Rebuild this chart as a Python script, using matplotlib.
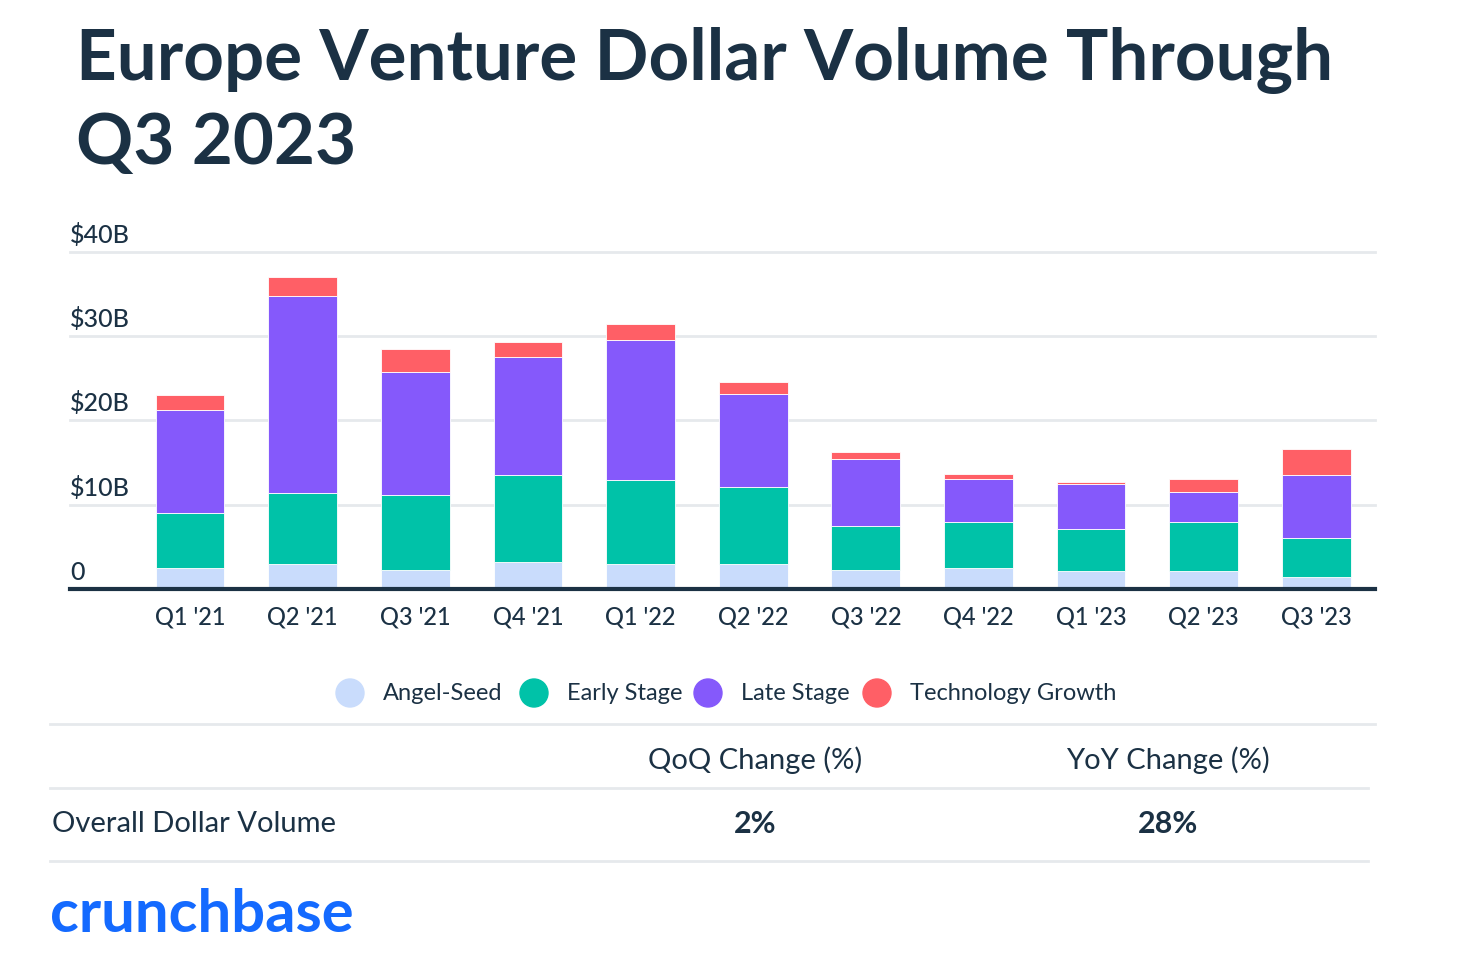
import matplotlib.pyplot as plt
import numpy as np

# 분기별 데이터 ($B)
quarters = ["Q1 '21", "Q2 '21", "Q3 '21", "Q4 '21", "Q1 '22", "Q2 '22",
            "Q3 '22", "Q4 '22", "Q1 '23", "Q2 '23", "Q3 '23"]
angel_seed = [2.5, 3.0, 2.3, 3.2, 3.0, 3.0, 2.3, 2.5, 2.1, 2.1, 1.45]
early_stage = [6.5, 8.4, 8.8, 10.3, 9.9, 9.1, 5.2, 5.4, 5.0, 5.8, 4.55]
late_stage = [12.3, 23.4, 14.7, 14.0, 16.6, 11.1, 7.9, 5.1, 5.4, 3.65, 7.5]
tech_growth = [1.7, 2.2, 2.65, 1.8, 1.95, 1.4, 0.9, 0.7, 0.2, 1.55, 3.1]

series_names = ["Angel-Seed", "Early Stage", "Late Stage", "Technology Growth"]
series_colors = ["#c9dcfc", "#00c2a8", "#8559fb", "#ff5f66"]

y_ticks = [0, 10, 20, 30, 40]
y_labels = ["0", "$10B", "$20B", "$30B", "$40B"]

table_header = ["QoQ Change (%)", "YoY Change (%)"]
table_row = "Overall Dollar Volume"
table_values = ["2%", "28%"]

NAVY = "#1b3144"
W, H = 1461, 967
FONT = "Lato"

def fx(px):
    return px / W

def fy(py):
    return 1 - py / H

fig = plt.figure(figsize=(W / 100, H / 100), dpi=100)
fig.patch.set_facecolor("white")

# 제목
fig.text(fx(76), fy(60), "Europe Venture Dollar Volume Through", fontsize=51,
         fontweight="bold", color=NAVY, family=FONT, va="center", ha="left")
fig.text(fx(76), fy(144), "Q3 2023", fontsize=51,
         fontweight="bold", color=NAVY, family=FONT, va="center", ha="left")

# 막대 차트
ax = fig.add_axes([fx(70), fy(589), fx(1375) - fx(70), fy(252) - fy(589)])
x = np.arange(len(quarters))
bottom = np.zeros(len(quarters))
for vals, name, color in zip([angel_seed, early_stage, late_stage, tech_growth],
                             series_names, series_colors):
    ax.bar(x, vals, width=0.61, bottom=bottom, color=color, label=name,
           edgecolor="white", linewidth=0.6, zorder=3)
    bottom += np.array(vals)

ax.set_xlim(-1.065, 10.52)
ax.set_ylim(0, 40)
for t in y_ticks[1:]:
    ax.axhline(t, color="#e6e9ec", linewidth=2, zorder=1, clip_on=False)
for t, lab in zip(y_ticks, y_labels):
    ax.annotate(lab, xy=(0, t), xycoords=ax.get_yaxis_transform(),
                xytext=(0, 5), textcoords="offset pixels", ha="left", va="bottom",
                fontsize=18, color=NAVY, family=FONT, fontweight="medium")

for s in ["top", "right", "left"]:
    ax.spines[s].set_visible(False)
ax.spines["bottom"].set_color(NAVY)
ax.spines["bottom"].set_linewidth(3)
ax.spines["bottom"].set_zorder(4)
ax.set_yticks([])
ax.set_xticks(x)
ax.set_xticklabels(quarters, fontsize=17, color=NAVY, family=FONT,
                   fontweight="medium")
ax.tick_params(axis="x", length=0, pad=12)

# 범례
legend_x = [350, 534, 708, 877]
for lx, name, color in zip(legend_x, series_names, series_colors):
    fig.patches.append(plt.Circle((lx, H - 693), 14, color=color,
                                  transform=None, figure=fig))
    fig.text(fx(lx + 33), fy(694), name, fontsize=17, color=NAVY, family=FONT,
             va="center", ha="left")

# 표
def hline(py, x0, x1):
    fig.add_artist(plt.Line2D([fx(x0), fx(x1)], [fy(py), fy(py)],
                              color="#e6e9ec", linewidth=2))

hline(724, 50, 1375)
hline(788, 50, 1368)
hline(861, 50, 1368)

col_x = [755, 1168]
for cx, head, val in zip(col_x, table_header, table_values):
    fig.text(fx(cx), fy(760), head, fontsize=21, color=NAVY, family=FONT,
             ha="center", va="center")
    fig.text(fx(cx), fy(824), val, fontsize=22, color=NAVY, family=FONT,
             ha="center", va="center", fontweight="bold")
fig.text(fx(52), fy(824), table_row, fontsize=21, color=NAVY, family=FONT,
         ha="left", va="center")

# 로고
fig.text(fx(50), fy(915), "crunchbase", fontsize=43, color="#146aff",
         family=FONT, fontweight="bold", ha="left", va="center")

fig.savefig("out.png", dpi=100, facecolor="white")
